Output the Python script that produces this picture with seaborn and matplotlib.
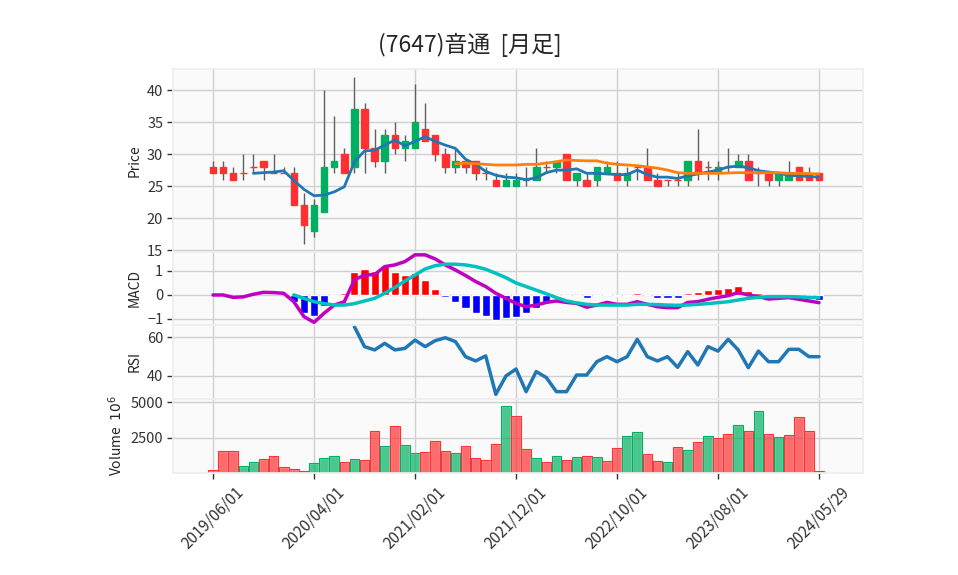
import numpy as np
import pandas as pd
import matplotlib
matplotlib.use("Agg")
import matplotlib.pyplot as plt
import seaborn as sns

# monthly bars 2019/06 .. 2024/05 plus the running bar of 2024/05/29
dates = list(pd.date_range("2019-06-01", "2024-05-01", freq="MS")) + [pd.Timestamp("2024-05-29")]

opens = [28, 28, 27, 27, 28, 29, 27, 27, 27, 22,
         18, 21, 28, 30, 28, 37, 31, 29, 33, 31,
         31, 34, 33, 30, 28, 29, 29, 27, 26, 25,
         25, 26, 26, 28, 28, 30, 26, 26, 26, 27,
         27, 26, 28, 28, 26, 26, 26, 26, 29, 28,
         27, 28, 28, 29, 27, 27, 26, 26, 28, 27, 27]
highs = [29, 29, 28, 30, 30, 29, 30, 28, 28, 24,
         23, 40, 36, 31, 42, 38, 34, 34, 35, 33,
         41, 38, 33, 31, 31, 29, 29, 28, 27, 27,
         27, 28, 31, 29, 29, 30, 27, 27, 28, 29,
         29, 28, 28, 31, 27, 26, 27, 29, 34, 29,
         29, 31, 30, 30, 28, 27, 27, 29, 28, 28, 27]
lows = [27, 26, 26, 26, 27, 26, 27, 27, 22, 16,
        17, 21, 27, 27, 27, 27, 28, 27, 30, 29,
        31, 32, 29, 27, 27, 27, 26, 26, 25, 25,
        25, 25, 26, 27, 27, 26, 25, 25, 25, 27,
        26, 25, 26, 26, 25, 25, 25, 25, 26, 26,
        26, 27, 28, 26, 25, 25, 25, 26, 26, 26, 26]
closes = [27, 27, 26, 27, 28, 28, 27, 27, 22, 19,
          22, 28, 29, 27, 37, 31, 29, 33, 31, 32,
          35, 32, 30, 28, 29, 28, 27, 27, 25, 26,
          26, 26, 28, 28, 29, 26, 27, 25, 28, 28,
          26, 27, 28, 26, 25, 26, 26, 29, 27, 28,
          28, 28, 29, 26, 27, 26, 27, 27, 26, 26, 26]
# volume in units of 10^6
volumes = [280, 1600, 1600, 556, 856, 1042, 1250, 486, 347, 208,
           787, 1111, 1250, 856, 1042, 972, 2986, 1944, 3356, 2014,
           1458, 1528, 2292, 1597, 1458, 1944, 1111, 972, 2083, 4740,
           4028, 1736, 1111, 833, 1250, 972, 1181, 1250, 1181, 903,
           1806, 2639, 2917, 1389, 903, 833, 1875, 1667, 2222, 2639,
           2500, 2778, 3403, 2986, 4375, 2778, 2569, 2708, 3958, 2986, 208]

# moving averages as drawn (5 from bar 4, 25 from bar 24)
ma5 = [27.0, 27.1, 27.2, 27.4, 25.9, 24.5, 23.5, 23.6, 24.1, 24.9,
       28.8, 30.5, 30.6, 31.4, 32.2, 31.3, 32.0, 32.7, 32.0, 31.4,
       30.9, 29.2, 28.4, 27.3, 26.7, 26.4, 26.3, 26.0, 26.3, 27.1,
       27.5, 27.5, 27.7, 27.0, 27.0, 26.9, 26.8, 26.8, 27.5, 26.8,
       26.4, 26.4, 26.2, 26.6, 26.9, 27.2, 27.5, 28.0, 28.1, 27.9,
       27.4, 27.2, 27.0, 26.7, 26.6, 26.5, 26.4]
ma25 = [28.5, 28.6, 28.5, 28.4, 28.3, 28.3, 28.3, 28.4, 28.4, 28.6,
        28.8, 29.1, 29.0, 28.95, 28.95, 28.6, 28.4, 28.3, 28.2, 28.0,
        27.8, 27.5, 27.1, 27.0, 27.0, 27.0, 27.0, 27.05, 27.1, 27.1,
        27.1, 27.1, 27.1, 27.0, 27.0, 26.95, 26.9]

macd = [0, 0, -0.1, -0.08, 0.03, 0.11, 0.1, 0.07, -0.28, -0.9,
        -1.14, -0.76, -0.42, -0.28, 0.63, 0.83, 0.85, 1.18, 1.25, 1.39,
        1.67, 1.67, 1.5, 1.25, 1.04, 0.81, 0.56, 0.35, 0.07, -0.14,
        -0.35, -0.49, -0.42, -0.31, -0.25, -0.31, -0.35, -0.51, -0.42, -0.31,
        -0.39, -0.39, -0.28, -0.39, -0.49, -0.53, -0.53, -0.31, -0.28, -0.18,
        -0.1, -0.03, 0.1, 0, -0.07, -0.17, -0.14, -0.11, -0.18, -0.25, -0.32]
signal = [0, -0.14, -0.28, -0.36, -0.42, -0.42, -0.36, -0.25, -0.14, 0.07,
          0.31, 0.58, 0.83, 1.08, 1.22, 1.28, 1.28, 1.25, 1.18, 1.07,
          0.9, 0.72, 0.5, 0.35, 0.2, 0.05, -0.11, -0.25, -0.33, -0.39,
          -0.42, -0.42, -0.42, -0.42, -0.39, -0.39, -0.4, -0.42, -0.43, -0.42,
          -0.39, -0.36, -0.32, -0.28, -0.21, -0.14, -0.1, -0.07, -0.07, -0.07,
          -0.08, -0.1, -0.11]
hist = [-0.3, -0.76, -0.86, -0.44, -0.04, 0.07, 0.97, 1.08, 1.0, 1.22,
        0.97, 0.83, 0.9, 0.64, 0.26, -0.1, -0.3, -0.53, -0.74, -0.86,
        -1.03, -0.97, -0.9, -0.76, -0.53, -0.28, -0.05, -0.05, -0.05, -0.14,
        -0.05, 0.04, -0.03, -0.03, 0.07, -0.02, -0.11, -0.11, -0.11, 0.07,
        0.11, 0.21, 0.25, 0.31, 0.39, 0.17, 0.07, -0.03, -0.03, -0.03,
        -0.05, -0.08, -0.2]
rsi = [65.5, 55.2, 53.5, 56.9, 53.5, 54.3, 58.6, 55.2, 58.3, 59.8,
       57.8, 50.0, 47.8, 50.4, 30.5, 40.0, 43.6, 31.9, 42.3, 39.2,
       31.9, 31.9, 40.5, 40.5, 47.4, 50.0, 47.4, 50.0, 59.0, 50.0,
       47.8, 50.0, 44.5, 52.6, 45.7, 55.2, 52.9, 59.0, 53.5, 44.3,
       52.9, 47.4, 47.4, 53.8, 53.8, 50.0, 50.0]

title = "(7647)音通  [月足]"
up_c, down_c, wick_c = "#00b060", "#fe3032", "#606060"

sns.set_theme(style="whitegrid", rc={
    "axes.facecolor": "#fafafa", "grid.color": "#d0d0d0", "axes.edgecolor": "#eeeeee",
    "xtick.bottom": True, "ytick.left": True, "xtick.color": "#333333", "ytick.color": "#333333",
})
plt.rcParams["font.family"] = ["Noto Sans CJK JP", "DejaVu Sans"]
plt.rcParams["axes.unicode_minus"] = True

n = len(closes)
x = np.arange(n)
o, h, l, c = map(np.array, (opens, highs, lows, closes))
candle_col = np.where(c > o, up_c, down_c)
prev = np.r_[c[0] + 1, c[:-1]]
vol_col = np.where(c > prev, up_c, down_c)

fig = plt.figure(figsize=(9.58, 5.75), dpi=100)
L, W = 0.1806, 0.7203
ax_p = fig.add_axes([L, 0.5617, W, 0.3183])
ax_m = fig.add_axes([L, 0.4348, W, 0.1270], sharex=ax_p)
ax_r = fig.add_axes([L, 0.3061, W, 0.1287], sharex=ax_p)
ax_v = fig.add_axes([L, 0.1774, W, 0.1287], sharex=ax_p)

# candles
ax_p.vlines(x, l, h, color=wick_c, linewidth=1, zorder=2)
ax_p.bar(x, np.abs(c - o), bottom=np.minimum(o, c), width=0.65,
         color=candle_col, edgecolor=candle_col, linewidth=1, zorder=3)
sns.lineplot(x=x[n - len(ma5):], y=ma5, ax=ax_p, color="#1f77b4", linewidth=2, estimator=None, zorder=4)
sns.lineplot(x=x[n - len(ma25):], y=ma25, ax=ax_p, color="#ff7f0e", linewidth=2, estimator=None, zorder=4)
ax_p.set_ylim(14.7, 43.3)
ax_p.set_yticks([15, 20, 25, 30, 35, 40])
ax_p.set_ylabel("Price")

# MACD
hx = x[n - len(hist):]
ax_m.bar(hx, hist, width=0.8, color=np.where(np.array(hist) >= 0, "red", "blue"), zorder=2)
sns.lineplot(x=x, y=macd, ax=ax_m, color="#c000c0", linewidth=2.5, estimator=None, zorder=3)
sns.lineplot(x=x[n - len(signal):], y=signal, ax=ax_m, color="#00c0c0", linewidth=2.5, estimator=None, zorder=3)
ax_m.set_ylim(-1.25, 1.79)
ax_m.set_yticks([-1, 0, 1])
ax_m.set_ylabel("MACD")

# RSI
sns.lineplot(x=x[n - len(rsi):], y=rsi, ax=ax_r, color="#1f77b4", linewidth=2.5, estimator=None)
ax_r.set_ylim(28.1, 66.4)
ax_r.set_yticks([40, 60])
ax_r.set_ylabel("RSI")

# volume
ax_v.bar(x, volumes, width=0.95, color=vol_col, alpha=0.7, zorder=2)
ax_v.bar(x, volumes, width=0.95, color="none", edgecolor=vol_col, linewidth=0.8, zorder=2)
ax_v.set_ylim(0.3 * min(volumes), 1.1 * max(volumes))
ax_v.set_yticks([2500, 5000])
ax_v.set_ylabel("Volume  $10^{6}$")

ticks = list(range(0, n, 10))
ax_v.set_xticks(ticks)
ax_v.set_xticklabels([dates[i].strftime("%Y/%m/%d") for i in ticks], rotation=45, ha="center")
ax_v.set_xlim(-3.96, 64.36)

for ax in (ax_p, ax_m, ax_r, ax_v):
    ax.tick_params(axis="y", length=4, width=1, labelsize=10.5, pad=3)
    ax.grid(True, color="#d0d0d0", linewidth=1)
    ax.yaxis.label.set_size(10)
    for s in ax.spines.values():
        s.set_color("#eeeeee")
for ax in (ax_p, ax_m, ax_r):
    ax.tick_params(axis="x", length=0, labelbottom=False)
ax_v.tick_params(axis="x", length=4, width=1, labelsize=11)

fig.text(0.49, 0.922, title, ha="center", va="center", fontsize=16.5)
fig.savefig("out.png", dpi=100)
